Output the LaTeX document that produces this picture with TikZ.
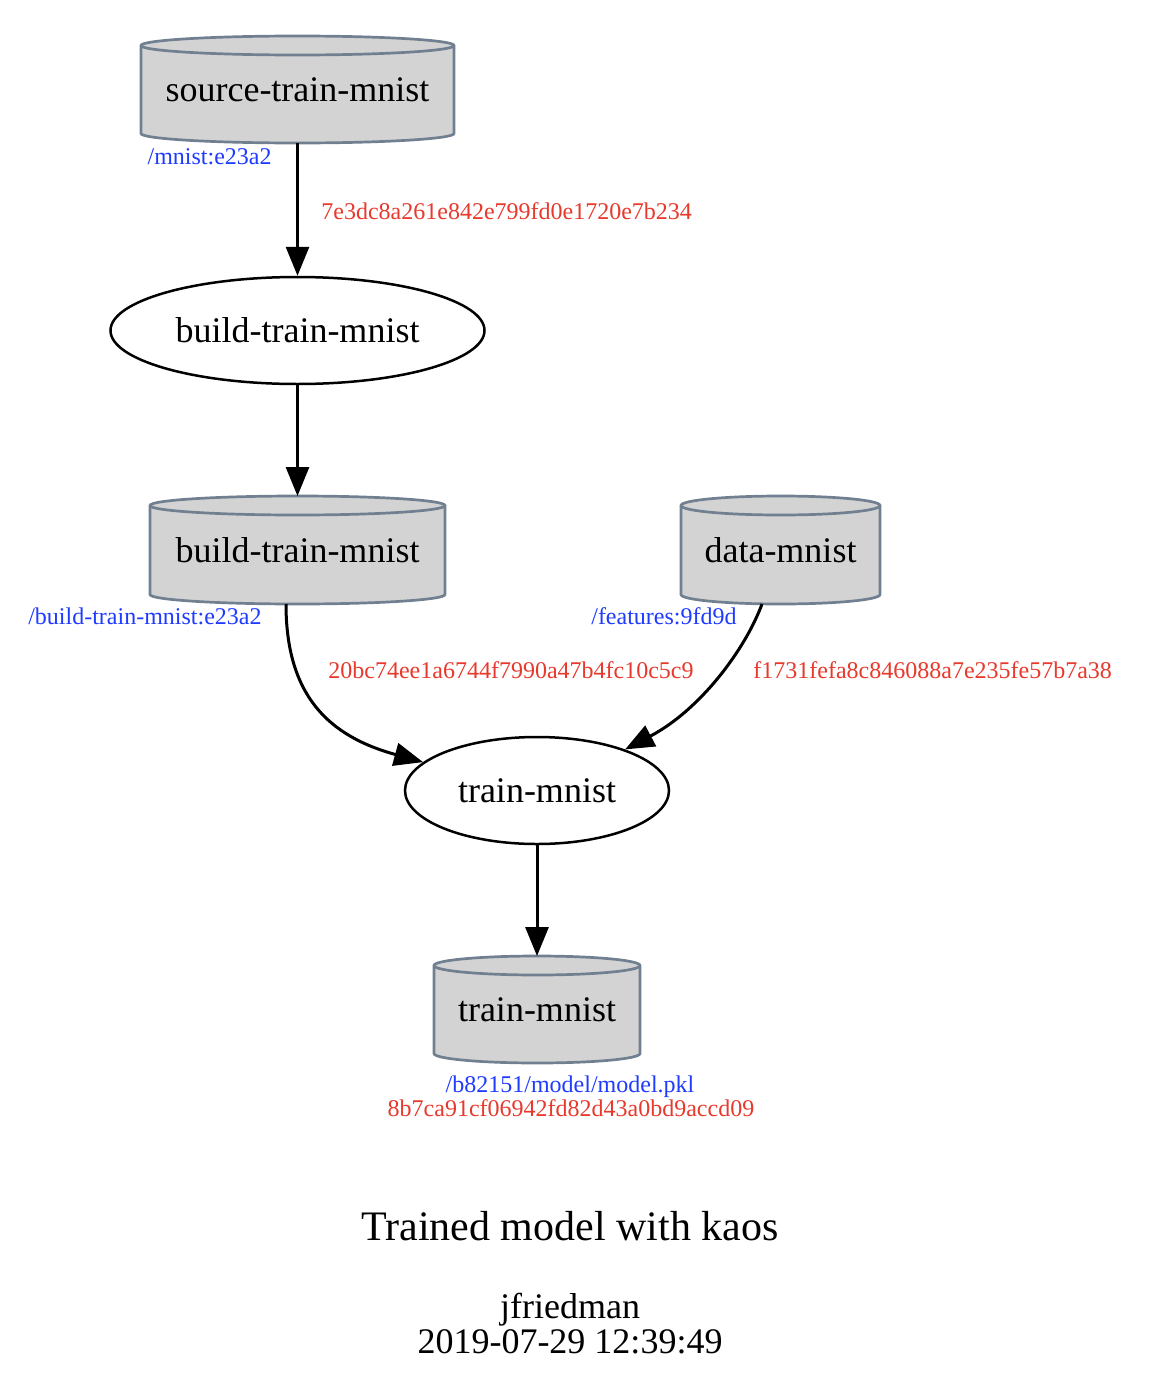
\documentclass[tikz,border=0pt]{standalone}
\usepackage{fontspec}
\setmainfont{Liberation Serif}
\usetikzlibrary{arrows.meta,shapes.geometric}
\definecolor{cylgray}{HTML}{D3D3D3}
\definecolor{cylline}{HTML}{708090}
\definecolor{hashred}{HTML}{E8392C}
\definecolor{pathblue}{HTML}{1F3BFF}
% cylinder outline: cx, top, bottom, halfwidth (px units)
\newcommand\dbcyl[4]{%
  \filldraw[cylbody] (#1-#4,#2+9.5) -- (#1-#4,#3-9.5)
    arc[start angle=180,end angle=360,x radius={#4*0.5pt},y radius=4.75pt]
    -- (#1+#4,#2+9.5)
    arc[start angle=0,end angle=180,x radius={#4*0.5pt},y radius=4.75pt] -- cycle;
  \draw[cylbody,fill=none] (#1-#4,#2+9.5)
    arc[start angle=180,end angle=360,x radius={#4*0.5pt},y radius=4.75pt];
}
\begin{document}
\begin{tikzpicture}[x=0.5pt,y=-0.5pt,
  cylbody/.style={fill=cylgray,draw=cylline,line width=1.35pt},
  cyltext/.style={rectangle,inner sep=0pt,outer sep=0pt,font=\fontsize{18}{21.6}\selectfont},
  proc/.style={ellipse,draw=black,line width=1.25pt,inner sep=0pt,font=\fontsize{18}{21.6}\selectfont},
  edge/.style={line width=1.5pt,-{Triangle[length=14.5pt,width=11.5pt]}},
  hash/.style={text=hashred,inner sep=0pt,font=\fontsize{12}{14}\selectfont},
  ppath/.style={text=pathblue,inner sep=0pt,font=\fontsize{12}{14}\selectfont},
  caption/.style={inner sep=0pt,anchor=base}]
\useasboundingbox (0,0) rectangle (1148,1376);
\fill[white] (0,0) rectangle (1148,1376);

\dbcyl{297.5}{36}{143}{156.5}
\node[cyltext,minimum width=156.5pt,minimum height=53.5pt] (src) at (297.5,89.5) {source-train-mnist};
\node[proc,minimum width=187pt,minimum height=53.5pt] (build) at (297.5,330.5) {build-train-mnist};
\dbcyl{297.5}{496}{604}{147.5}
\node[cyltext,minimum width=147.5pt,minimum height=54pt] (bout) at (297.5,550) {build-train-mnist};
\dbcyl{780.5}{496}{604}{99.5}
\node[cyltext,minimum width=99.5pt,minimum height=54pt] (data) at (780.5,550) {data-mnist};
\node[proc,minimum width=132pt,minimum height=53.5pt] (train) at (537,790.5) {train-mnist};
\dbcyl{537}{956}{1063}{103}
\node[cyltext,minimum width=103pt,minimum height=53.5pt] (tout) at (537,1009.5) {train-mnist};

\draw[edge] (src.south) -- (build.north);
\draw[edge] (build.south) -- (bout.north);
\draw[edge] ([xshift=-5.75pt]bout.south) .. controls (286,695) and (328,736) .. (train.166);
\draw[edge] ([xshift=-9.25pt]data.south) .. controls (745,650) and (700,710) .. (train.25);
\draw[edge] (train.south) -- (tout.north);

\node[ppath,anchor=base east] (l1) at (272,164) {/mnist:e23a2};
\node[hash,anchor=base west] (h1) at (321,219) {7e3dc8a261e842e799fd0e1720e7b234};
\node[ppath,anchor=base east] (l2) at (262,624) {/build-train-mnist:e23a2};
\node[hash,anchor=base west] (h2) at (328,678) {20bc74ee1a6744f7990a47b4fc10c5c9};
\node[ppath,anchor=base east] (l3) at (737,624) {/features:9fd9d};
\node[hash,anchor=base west] (h3) at (753,678) {f1731fefa8c846088a7e235fe57b7a38};
\node[ppath,anchor=base] (l4) at (570,1092) {/b82151/model/model.pkl};
\node[hash,anchor=base] (h4) at (571,1116) {8b7ca91cf06942fd82d43a0bd9accd09};

\node[caption,font=\fontsize{21}{25}\selectfont] (title) at (570,1240) {Trained model with kaos};
\node[caption,font=\fontsize{18}{21.6}\selectfont] (author) at (570,1318) {jfriedman};
\node[caption,font=\fontsize{18}{21.6}\selectfont] (date) at (570,1353) {2019-07-29 12:39:49};
\end{tikzpicture}
\end{document}
